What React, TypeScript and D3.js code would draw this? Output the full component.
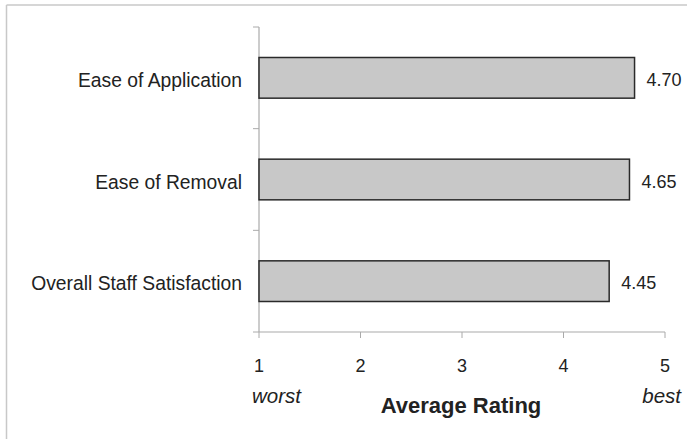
import React from "react";
import * as d3 from "d3";

const categories = ["Ease of Application", "Ease of Removal", "Overall Staff Satisfaction"];
const values = [4.7, 4.65, 4.45];
const xTicks = [1, 2, 3, 4, 5];
const valueLabels = ["4.70", "4.65", "4.45"];

export default function App() {
  const W = 687, H = 439;
  const left = 259, right = 665, top = 27, bottom = 332;
  const x = d3.scaleLinear().domain([1, 5]).range([left, right]);
  const y = d3.scaleBand().domain(categories).range([top, bottom]).paddingInner(0.6).paddingOuter(0.3);
  const bandEdges = d3.range(categories.length + 1).map(i => top + (i * (bottom - top)) / categories.length);
  const font = "'Liberation Sans', Arial, sans-serif";
  const axisColor = "#aaaaaa";
  return (
    <svg width={W} height={H} style={{ position: "absolute", left: 0, top: 0, background: "#fff" }} fontFamily={font}>
      <line x1={6.5} y1={5} x2={W} y2={5} stroke="#c8c8c8" strokeWidth={1.5} />
      <line x1={6.5} y1={5} x2={6.5} y2={H} stroke="#c8c8c8" strokeWidth={1.5} />
      {/* y axis */}
      <line x1={left} y1={top} x2={left} y2={bottom} stroke={axisColor} strokeWidth={1.2} />
      {bandEdges.map((e, i) => (
        <line key={i} x1={left - 6} x2={left} y1={e} y2={e} stroke={axisColor} strokeWidth={1} />
      ))}
      {/* x axis */}
      <line x1={left} y1={bottom} x2={right} y2={bottom} stroke={axisColor} strokeWidth={1.2} />
      {xTicks.map(t => (
        <g key={t}>
          <line x1={x(t)} x2={x(t)} y1={bottom} y2={bottom + 6} stroke={axisColor} strokeWidth={1} />
          <text x={x(t)} y={bottom + 40} textAnchor="middle" fontSize={18} fill="#222">{t}</text>
        </g>
      ))}
      {categories.map((c, i) => (
        <g key={c}>
          <rect x={x(1)} y={y(c)!} width={x(values[i]) - x(1)} height={y.bandwidth()} fill="#c8c8c8" stroke="#2a2a2a" strokeWidth={1.5} />
          <text x={x(values[i]) + 12} y={y(c)! + y.bandwidth() / 2 + 8} fontSize={18} fill="#222">{valueLabels[i]}</text>
          <text x={242} y={y(c)! + y.bandwidth() / 2 + 9} textAnchor="end" fontSize={19.3} fill="#222">{c}</text>
        </g>
      ))}
      <text x={252} y={403} fontSize={20.5} fontStyle="italic" fill="#222">worst</text>
      <text x={681} y={403} fontSize={20.5} fontStyle="italic" fill="#222" textAnchor="end">best</text>
      <text x={461} y={413} fontSize={22} fontWeight="bold" fill="#222" textAnchor="middle">Average Rating</text>
    </svg>
  );
}
